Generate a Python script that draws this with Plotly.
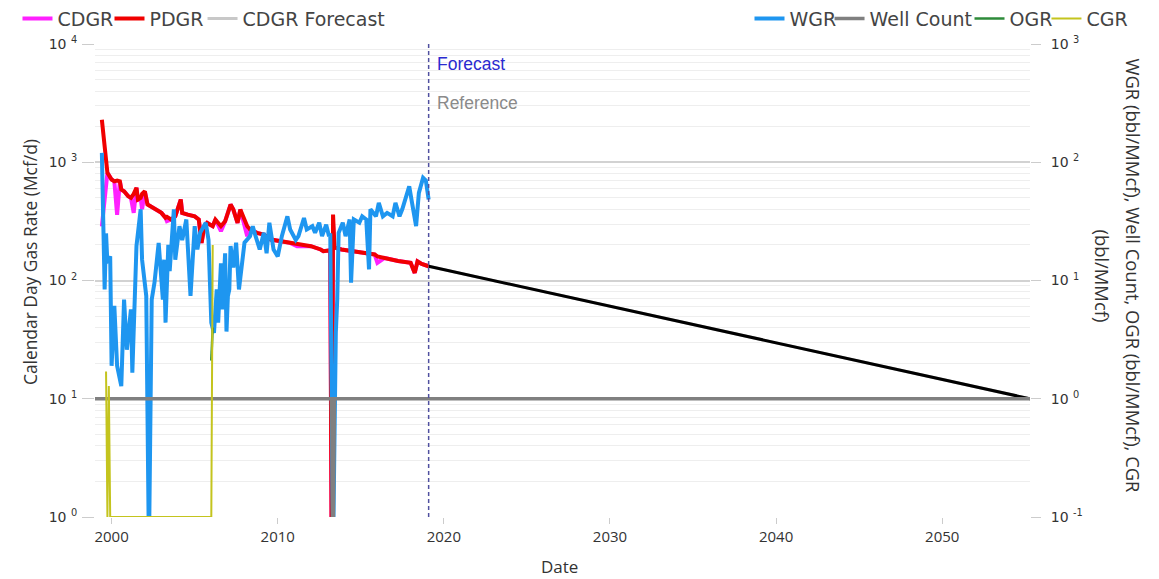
import plotly.graph_objects as go

# ---------------- data ----------------
rate_dates = ["1999-06", "1999-10", "2000-01", "2000-03", "2000-05", "2000-07", "2000-08", "2000-10",
              "2001-01", "2001-03", "2001-05", "2001-07", "2001-08", "2001-10", "2001-11", "2002-01",
              "2002-03", "2002-05", "2002-09", "2003-01", "2003-04", "2003-05", "2003-08", "2003-11",
              "2004-03", "2004-04", "2004-08", "2005-01", "2005-04", "2005-06", "2005-08", "2005-10",
              "2006-02", "2006-04", "2006-08", "2006-11", "2007-03", "2007-05", "2007-08", "2007-10",
              "2008-03", "2008-05", "2008-10", "2009-03", "2009-08", "2010-03", "2010-10", "2011-03",
              "2012-01", "2012-08", "2012-10", "2013-03", "2013-04", "2013-05", "2013-06", "2013-11",
              "2014-06", "2015-01", "2015-11", "2016-01", "2016-06", "2017-04", "2018-01", "2018-04",
              "2018-06", "2018-09", "2019-02"]
pdgr = [2290, 813, 715, 690, 700, 690, 587, 568,
        516, 500, 540, 608, 484, 500, 540, 568,
        439, 425, 398, 373, 339, 345, 328, 349,
        484, 373, 361, 349, 328, 208, 288, 307,
        288, 328, 288, 317, 439, 398, 307, 398,
        288, 270, 253, 245, 222, 215, 208, 201,
        195, 183, 177, 180, 0.5, 361, 190, 183,
        177, 171, 166, 160, 155, 146, 141, 116,
        145, 138, 132]
cdgr = [287, 813, 715, 690, 360, 690, 587, 568,
        516, 500, 373, 608, 484, 500, 400, 568,
        439, 425, 398, 373, 339, 318, 328, 349,
        484, 373, 361, 349, 328, 208, 288, 307,
        288, 328, 261, 317, 439, 398, 307, 398,
        237, 270, 253, 245, 222, 215, 208, 195,
        195, 183, 177, 180, 0.5, 300, 190, 183,
        177, 171, 166, 141, 155, 146, 141, 116,
        145, 138, 132]

forecast_dates = ["2019-02-01", "2055-04-15"]
cdgr_forecast = [132, 10]

wgr_dates = ["1999-06", "1999-08", "1999-09", "1999-10", "1999-12", "2000-01", "2000-03", "2000-05",
             "2000-08", "2000-09", "2000-10", "2000-12", "2001-03", "2001-04", "2001-06", "2001-07",
             "2001-10", "2001-11", "2002-02", "2002-04", "2002-06", "2002-08", "2002-11", "2003-02",
             "2003-03", "2003-04", "2003-06", "2003-07", "2003-10", "2003-11", "2004-02", "2004-04",
             "2004-07", "2004-10", "2005-01", "2005-03", "2005-05", "2005-09", "2005-11", "2006-01",
             "2006-03", "2006-05", "2006-06", "2006-08", "2006-09", "2006-11", "2006-12", "2007-01",
             "2007-02", "2007-03", "2007-05", "2007-07", "2007-09", "2008-01", "2008-05", "2008-07",
             "2008-09", "2008-12", "2009-03", "2009-05", "2009-07", "2009-10", "2010-01", "2010-04",
             "2010-08", "2010-10", "2011-02", "2011-04", "2011-08", "2011-10", "2012-02", "2012-04",
             "2012-07", "2012-09", "2012-12", "2013-02", "2013-03", "2013-05", "2013-07", "2013-08",
             "2013-09", "2013-12", "2014-02", "2014-05", "2014-06", "2014-08", "2014-12", "2015-02",
             "2015-05", "2015-07", "2015-08", "2015-12", "2016-02", "2016-05", "2016-08", "2016-12",
             "2017-02", "2017-05", "2017-07", "2017-10", "2017-12", "2018-02", "2018-05", "2018-07",
             "2018-10", "2018-12", "2019-02"]
wgr = [120, 8.4, 25, 14, 16, 1.9, 6.1, 1.9,
       1.28, 3.9, 6.9, 2.6, 5.7, 1.66, 7.9, 19.6,
       40, 15, 7.4, 0.05, 6.9, 9.6, 20.8, 6.9,
       15, 4.4, 20, 12, 40, 15, 28.8, 22,
       32.8, 7.4, 28.8, 18.3, 25.3, 30.8, 22, 4.4,
       3.6, 8.4, 4.4, 14, 5.7, 17, 3.7, 7.4,
       8.4, 19.6, 12.9, 20.9, 8.4, 20.9, 23.7, 28.8,
       23.7, 18.3, 25.3, 17, 30.8, 18.3, 16, 23.7,
       34.9, 27, 22, 23.7, 33.8, 27, 28.8, 25.3,
       30.8, 23.7, 29.7, 23.7, 25, 0.05, 3.6, 6.9,
       25.3, 30.8, 23.7, 32.8, 9.6, 32.8, 30.8, 34.9,
       32.8, 12.4, 40, 34.9, 45.4, 34.9, 37.3, 34.9,
       45.4, 34.9, 40, 51.6, 62.7, 45.4, 28.8, 55,
       73.8, 70, 48.4]

well_dates = ["1999-01-01", "2013-04-01", "2013-05-01", "2013-06-01", "2055-04-15"]
well_count = [1, 1, 0.05, 1, 1]

ogr_dates = ["2006-01", "2006-02"]
ogr = [2.1, 4.0]

cgr_dates = ["1999-09", "1999-10", "1999-11", "1999-12", "2006-01", "2006-02"]
cgr = [1.7, 0.1, 1.28, 0.1, 0.1, 20]

reference_date = "2019-02-01"
left_ticks = [1, 10, 100, 1000, 10000]
left_labels = ["10 <sup>0</sup>", "10 <sup>1</sup>", "10 <sup>2</sup>", "10 <sup>3</sup>", "10 <sup>4</sup>"]
right_ticks = [0.1, 1, 10, 100, 1000]
right_labels = ["10 <sup>-1</sup>", "10 <sup>0</sup>", "10 <sup>1</sup>", "10 <sup>2</sup>", "10 <sup>3</sup>"]

# legend entries: (layout key, paper x of entry)
legend_slots = {"legend": -0.0829, "legend2": 0.0155, "legend3": 0.1150,
                "legend4": 0.7000, "legend5": 0.7856, "legend6": 0.9353, "legend7": 1.0176}

# ---------------- figure ----------------
fig = go.Figure()
fig.add_trace(go.Scatter(x=rate_dates, y=cdgr, name="CDGR", mode="lines",
                         line=dict(color="#ff20ff", width=4), legend="legend"))
fig.add_trace(go.Scatter(x=rate_dates, y=pdgr, name="PDGR", mode="lines",
                         line=dict(color="#f00000", width=4), legend="legend2"))
fig.add_trace(go.Scatter(x=forecast_dates, y=cdgr_forecast, name="CDGR Forecast", mode="lines",
                         line=dict(color="#c8c8c8", width=3), legend="legend3"))
fig.add_trace(go.Scatter(x=forecast_dates, y=cdgr_forecast, name="Forecast", mode="lines",
                         line=dict(color="#000000", width=3), showlegend=False))

fig.add_trace(go.Scatter(x=wgr_dates, y=wgr, name="WGR", mode="lines", yaxis="y2",
                         line=dict(color="#1e96f0", width=4), legend="legend4"))
fig.add_trace(go.Scatter(x=well_dates, y=well_count, name="Well Count", mode="lines", yaxis="y2",
                         line=dict(color="#808080", width=3.5), legend="legend5"))
fig.add_trace(go.Scatter(x=ogr_dates, y=ogr, name="OGR", mode="lines", yaxis="y2",
                         line=dict(color="#2e8b3a", width=2.5), legend="legend6"))
fig.add_trace(go.Scatter(x=cgr_dates, y=cgr, name="CGR", mode="lines", yaxis="y2",
                         line=dict(color="#c4c41e", width=2), legend="legend7"))

fig.add_shape(type="line", x0=reference_date, x1=reference_date, xref="x", y0=0, y1=1, yref="paper",
              line=dict(color="#5050a0", width=1.5, dash="4px,3px"))
fig.add_annotation(x=reference_date, xref="x", y=0.9567, yref="paper", text="Forecast",
                   showarrow=False, xanchor="left", yanchor="middle", xshift=6,
                   font=dict(family="Liberation Sans", size=17.5, color="#2a2ad0"))
fig.add_annotation(x=reference_date, xref="x", y=0.8763, yref="paper", text="Reference",
                   showarrow=False, xanchor="left", yanchor="middle", xshift=6,
                   font=dict(family="Liberation Sans", size=17.5, color="#8a8a8a"))

# axis titles
title_font = dict(family="Open Sans", color="#333333")
fig.add_annotation(x=-0.0695, xref="paper", y=0.539, yref="paper", text="Calendar Day Gas Rate (Mcf/d)",
                   textangle=-90, showarrow=False, xanchor="center", yanchor="middle",
                   font=dict(size=17.4, **title_font))
fig.add_annotation(x=1.1107, xref="paper", y=0.5095, yref="paper",
                   text="WGR (bbl/MMcf), Well Count, OGR (bbl/MMcf), CGR",
                   textangle=90, showarrow=False, xanchor="center", yanchor="middle",
                   font=dict(size=18.4, **title_font))
fig.add_annotation(x=1.0786, xref="paper", y=0.5095, yref="paper", text="(bbl/MMcf)",
                   textangle=90, showarrow=False, xanchor="center", yanchor="middle",
                   font=dict(size=18.4, **title_font))
fig.add_annotation(x=0.497, xref="paper", y=-0.1036, yref="paper", text="Date",
                   showarrow=False, xanchor="center", yanchor="middle",
                   font=dict(size=17, **title_font))

minor_vals = [m * 10 ** e for e in range(-1, 4) for m in range(2, 10)]

legend_font = dict(family="DejaVu Sans", size=19, color="#444444")
legend_layouts = {key: dict(orientation="h", x=xpos, xanchor="left", y=1.094, yanchor="top",
                            xref="paper", yref="paper", font=legend_font,
                            bgcolor="rgba(0,0,0,0)", itemwidth=30)
                  for key, xpos in legend_slots.items()}

fig.update_layout(
    width=1151, height=571,
    margin=dict(l=87, r=129, t=36, b=62, autoexpand=False),
    plot_bgcolor="white", paper_bgcolor="white",
    font=dict(family="DejaVu Sans", size=14, color="#333333"),
    xaxis=dict(type="date", range=["1999-01-01", "2055-04-15"], dtick="M120", tick0="2000-01-01",
               tickformat="%Y", ticks="outside", ticklen=6, tickcolor="#cccccc",
               showgrid=False, zeroline=False, showline=False, automargin=False,
               tickfont=dict(family="Open Sans", size=15, color="#333333")),
    yaxis=dict(type="log", range=[0, 4], tickmode="array", tickvals=left_ticks, ticktext=left_labels,
               showgrid=True, gridcolor="#d2d2d2", gridwidth=2, zeroline=False, showline=False,
               ticks="outside", ticklen=12, ticklabelstandoff=2, tickcolor="#cccccc", automargin=False,
               minor=dict(tickmode="array", tickvals=minor_vals, showgrid=True, gridcolor="#eeeeee",
                          gridwidth=1, ticks=""),
               tickfont=dict(family="DejaVu Sans", size=14, color="#333333")),
    yaxis2=dict(type="log", range=[-1, 3], overlaying="y", side="right", tickmode="array",
                tickvals=right_ticks, ticktext=right_labels, showgrid=False, zeroline=False,
                showline=False, ticks="outside", ticklen=10, ticklabelstandoff=7,
                tickcolor="#cccccc", automargin=False,
                tickfont=dict(family="DejaVu Sans", size=14, color="#333333")),
    **legend_layouts,
)

fig.write_html("out.html")
